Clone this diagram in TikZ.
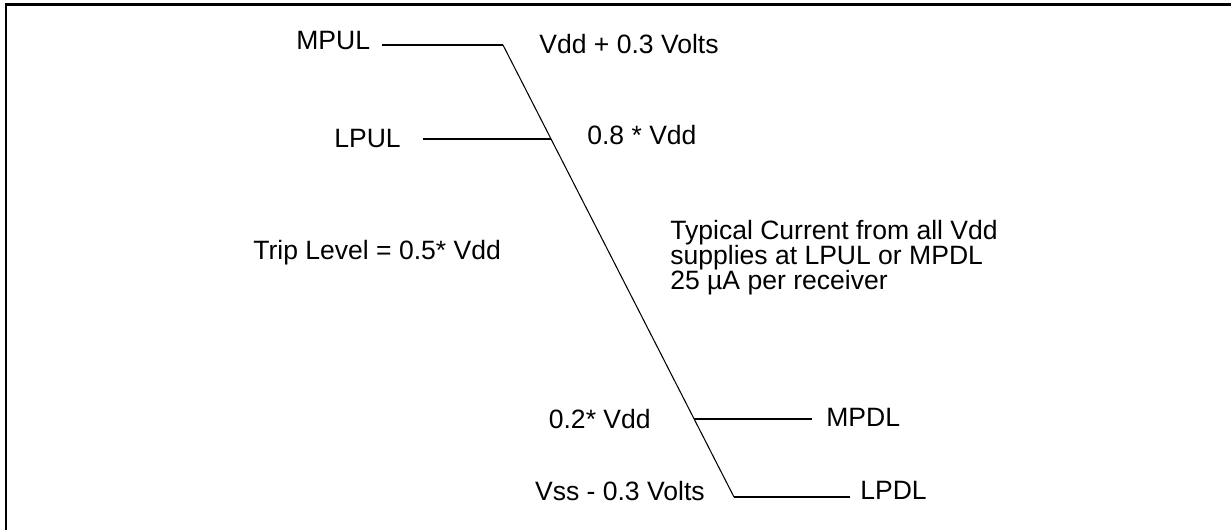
\documentclass[tikz,border=0pt]{standalone}
\usepackage{fontspec}
\setmainfont{Liberation Sans}
\begin{document}
\begin{tikzpicture}[x = 0.02cm, y = -0.02cm, font = \fontsize{15.1}{14.2}\selectfont,
   lbl/.style = {inner sep = 0pt}, wire/.style = {line width = 0.6pt}]
\useasboundingbox (0,0) rectangle (1231,529);
\draw[line width = 1.7pt] (6,4.3) rectangle (1260,560);

% the slope and where the levels meet it
\coordinate (top) at (503,45);
\coordinate (bot) at (734,497);
\coordinate (lpultap) at (551,139);
\coordinate (mpdltap) at (694,419);
\coordinate (mpulend) at (382,45);
\coordinate (lpulend) at (423,139);
\coordinate (mpdlend) at (812,419);
\coordinate (lpdlend) at (850,497);

\draw[wire] (top) -- (bot);
\foreach \a/\b in {mpulend/top, lpulend/lpultap, mpdltap/mpdlend, bot/lpdlend}
   \draw[wire] (\a) -- (\b);

\node[lbl, anchor = base west] (mpul) at (296,49) {MPUL};
\node[lbl, anchor = base west] (lpul) at (334,147) {LPUL};
\node[lbl, anchor = base west] (mpdl) at (826,426) {MPDL};
\node[lbl, anchor = base west] (lpdl) at (860,499) {LPDL};

\node[lbl, anchor = base west] (vddhi) at (539,53) {Vdd + 0.3 Volts};
\node[lbl, anchor = base west] (vih) at (587,144) {0.8 * Vdd};
\node[lbl, anchor = base west] (trip) at (253,259) {Trip Level = 0.5* Vdd};
\node[lbl, anchor = base east] (vil) at (651,428) {0.2* Vdd};
\node[lbl, anchor = base east] (vsslo) at (705,500) {Vss - 0.3 Volts};

% base of a multi-line node is its last line
\node[lbl, anchor = base west, align = left] (current) at (670,289)
   {Typical Current from all Vdd\\supplies at LPUL or MPDL\\25 µA per receiver};
\end{tikzpicture}
\end{document}
